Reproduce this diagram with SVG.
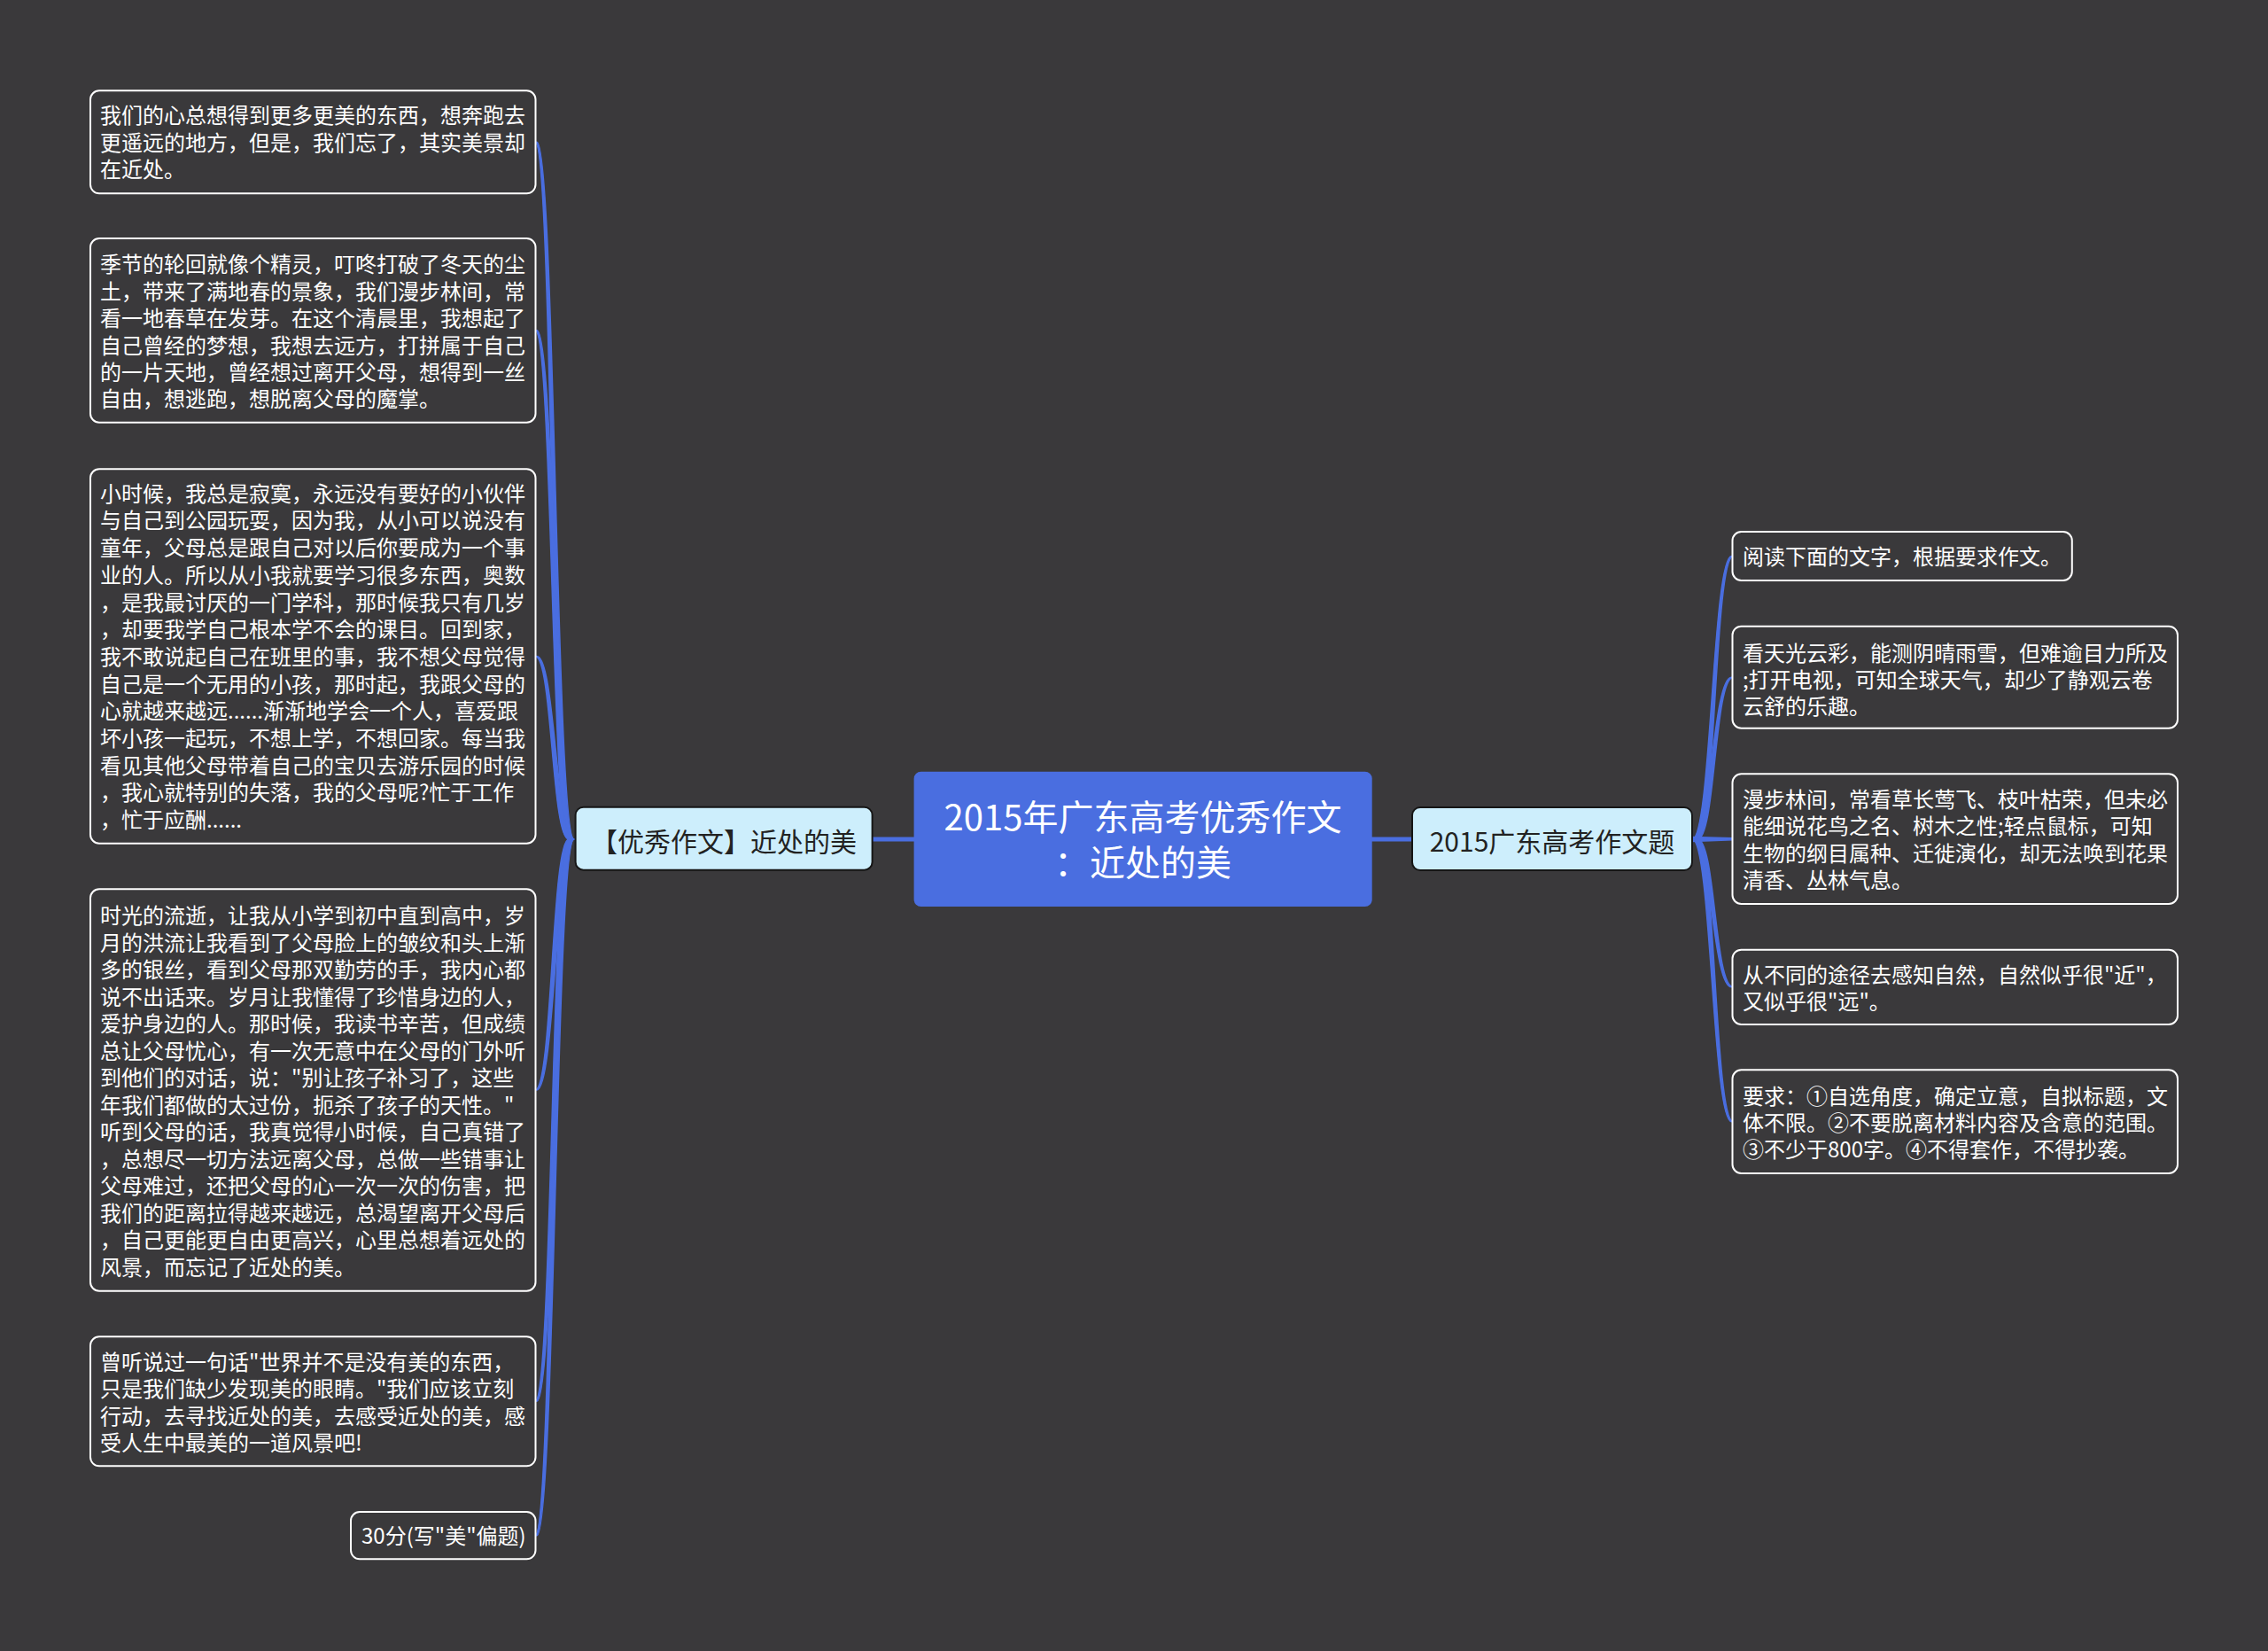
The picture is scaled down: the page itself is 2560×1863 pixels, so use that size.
<svg xmlns="http://www.w3.org/2000/svg" width="2560" height="1863" viewBox="0 0 2560 1863">
<style>
.bg{fill:#3a393b}
.leaf rect{fill:#3a393b;stroke:#ffffff;stroke-width:2}
.leaf text{font-family:"Noto Sans CJK SC","Noto Sans",sans-serif;font-size:24px;fill:#ffffff}
.sub rect{fill:#cdeefc;stroke:#161616;stroke-width:2}
.sub text{font-family:"Noto Sans CJK SC","Noto Sans",sans-serif;font-size:30px;fill:#222222;text-anchor:middle}
.root rect{fill:#4a6ee0}
.root text{font-family:"Noto Sans CJK SC","Noto Sans",sans-serif;font-size:40px;fill:#ffffff;text-anchor:middle}
#connectors path{fill:#4a6ee0;stroke:#4a6ee0;stroke-width:1.5;stroke-linejoin:round}
#connectors path.ln{fill:none;stroke-width:5}
</style>
<rect class="bg" x="0" y="0" width="2560" height="1863"/>
<g id="connectors">
<path class="ln" d="M984 947 L1032 947"/>
<path class="ln" d="M1548 947 L1595 947"/>
<path d="M642 947 C622.5 947 623.5 160.3 604 160.3 L606 160.3 C626.5 160.3 627.5 947 648 947 Z"/>
<path d="M642 947 C622.5 947 623.5 372.8 604 372.8 L606 372.8 C626.5 372.8 627.5 947 648 947 Z"/>
<path d="M642 947 C622.5 947 623.5 740.5 604 740.5 L606 740.5 C626.5 740.5 627.5 947 648 947 Z"/>
<path d="M642 947 C622.5 947 623.5 1230 604 1230 L606 1230 C626.5 1230 627.5 947 648 947 Z"/>
<path d="M642 947 C622.5 947 623.5 1581.3 604 1581.3 L606 1581.3 C626.5 1581.3 627.5 947 648 947 Z"/>
<path d="M642 947 C622.5 947 623.5 1732.7 604 1732.7 L606 1732.7 C626.5 1732.7 627.5 947 648 947 Z"/>
<path d="M1910 947 C1931.5 947 1933 627.5 1954.5 627.5 L1956.5 627.5 C1935 627.5 1936.5 947 1916 947 Z"/>
<path d="M1910 947 C1931.5 947 1933 764.2 1954.5 764.2 L1956.5 764.2 C1935 764.2 1936.5 947 1916 947 Z"/>
<path d="M1910 944.5 L1956 945.7 L1956 947.7 L1910 949.5 Z"/>
<path d="M1910 947 C1931.5 947 1933 1113.8 1954.5 1113.8 L1956.5 1113.8 C1935 1113.8 1936.5 947 1916 947 Z"/>
<path d="M1910 947 C1931.5 947 1933 1265.7 1954.5 1265.7 L1956.5 1265.7 C1935 1265.7 1936.5 947 1916 947 Z"/>
</g>
<g id="root" class="root">
<rect x="1031.6" y="870.7" width="517.1" height="152.3" rx="8"/>
<text x="1290" y="936.5">2015年广东高考优秀作文</text>
<text x="1290" y="988">：近处的美</text>
</g>
<g id="left-main" class="sub">
<rect x="649.6" y="910.7" width="335" height="71" rx="9"/>
<text x="817" y="961">【优秀作文】近处的美</text>
</g>
<g id="right-main" class="sub">
<rect x="1594" y="911" width="316" height="71" rx="9"/>
<text x="1752" y="961">2015广东高考作文题</text>
</g>
<g id="l1" class="leaf">
<rect x="102" y="102.3" width="502.5" height="116" rx="10"/>
<text x="113"><tspan x="113" y="139">我们的心总想得到更多更美的东西，想奔跑去</tspan><tspan x="113" y="169.7">更遥远的地方，但是，我们忘了，其实美景却</tspan><tspan x="113" y="200.4">在近处。</tspan></text>
</g>
<g id="l2" class="leaf">
<rect x="102" y="269" width="502.5" height="207.7" rx="10"/>
<text x="113"><tspan x="113" y="307.3">季节的轮回就像个精灵，叮咚打破了冬天的尘</tspan><tspan x="113" y="337.7">土，带来了满地春的景象，我们漫步林间，常</tspan><tspan x="113" y="368.1">看一地春草在发芽。在这个清晨里，我想起了</tspan><tspan x="113" y="398.5">自己曾经的梦想，我想去远方，打拼属于自己</tspan><tspan x="113" y="428.9">的一片天地，曾经想过离开父母，想得到一丝</tspan><tspan x="113" y="459.3">自由，想逃跑，想脱离父母的魔掌。</tspan></text>
</g>
<g id="l3" class="leaf">
<rect x="102" y="529.3" width="502.5" height="422.4" rx="10"/>
<text x="113"><tspan x="113" y="565.7">小时候，我总是寂寞，永远没有要好的小伙伴</tspan><tspan x="113" y="596.4">与自己到公园玩耍，因为我，从小可以说没有</tspan><tspan x="113" y="627.1">童年，父母总是跟自己对以后你要成为一个事</tspan><tspan x="113" y="657.8">业的人。所以从小我就要学习很多东西，奥数</tspan><tspan x="113" y="688.5">，是我最讨厌的一门学科，那时候我只有几岁</tspan><tspan x="113" y="719.2">，却要我学自己根本学不会的课目。回到家，</tspan><tspan x="113" y="749.9">我不敢说起自己在班里的事，我不想父母觉得</tspan><tspan x="113" y="780.6">自己是一个无用的小孩，那时起，我跟父母的</tspan><tspan x="113" y="811.3">心就越来越远......渐渐地学会一个人，喜爱跟</tspan><tspan x="113" y="842">坏小孩一起玩，不想上学，不想回家。每当我</tspan><tspan x="113" y="872.7">看见其他父母带着自己的宝贝去游乐园的时候</tspan><tspan x="113" y="903.4">，我心就特别的失落，我的父母呢?忙于工作</tspan><tspan x="113" y="934.1">，忙于应酬......</tspan></text>
</g>
<g id="l4" class="leaf">
<rect x="102" y="1003.3" width="502.5" height="453.4" rx="10"/>
<text x="113"><tspan x="113" y="1042.3">时光的流逝，让我从小学到初中直到高中，岁</tspan><tspan x="113" y="1072.8">月的洪流让我看到了父母脸上的皱纹和头上渐</tspan><tspan x="113" y="1103.3">多的银丝，看到父母那双勤劳的手，我内心都</tspan><tspan x="113" y="1133.8">说不出话来。岁月让我懂得了珍惜身边的人，</tspan><tspan x="113" y="1164.3">爱护身边的人。那时候，我读书辛苦，但成绩</tspan><tspan x="113" y="1194.8">总让父母忧心，有一次无意中在父母的门外听</tspan><tspan x="113" y="1225.3">到他们的对话，说："别让孩子补习了，这些</tspan><tspan x="113" y="1255.8">年我们都做的太过份，扼杀了孩子的天性。"</tspan><tspan x="113" y="1286.3">听到父母的话，我真觉得小时候，自己真错了</tspan><tspan x="113" y="1316.8">，总想尽一切方法远离父母，总做一些错事让</tspan><tspan x="113" y="1347.3">父母难过，还把父母的心一次一次的伤害，把</tspan><tspan x="113" y="1377.8">我们的距离拉得越来越远，总渴望离开父母后</tspan><tspan x="113" y="1408.3">，自己更能更自由更高兴，心里总想着远处的</tspan><tspan x="113" y="1438.8">风景，而忘记了近处的美。</tspan></text>
</g>
<g id="l5" class="leaf">
<rect x="102" y="1508.3" width="502.5" height="146" rx="10"/>
<text x="113"><tspan x="113" y="1545.7">曾听说过一句话"世界并不是没有美的东西，</tspan><tspan x="113" y="1576.2">只是我们缺少发现美的眼睛。"我们应该立刻</tspan><tspan x="113" y="1606.7">行动，去寻找近处的美，去感受近处的美，感</tspan><tspan x="113" y="1637.2">受人生中最美的一道风景吧!</tspan></text>
</g>
<g id="l6" class="leaf">
<rect x="396" y="1706" width="208.5" height="53.3" rx="10"/>
<text x="408" y="1742.3">30分(写"美"偏题)</text>
</g>
<g id="r1" class="leaf">
<rect x="1955.5" y="600" width="383.3" height="55" rx="10"/>
<text x="1967" y="637.3">阅读下面的文字，根据要求作文。</text>
</g>
<g id="r2" class="leaf">
<rect x="1955.5" y="706.7" width="502.5" height="115" rx="10"/>
<text x="1967"><tspan x="1967" y="745.7">看天光云彩，能测阴晴雨雪，但难逾目力所及</tspan><tspan x="1967" y="776">;打开电视，可知全球天气，却少了静观云卷</tspan><tspan x="1967" y="806.3">云舒的乐趣。</tspan></text>
</g>
<g id="r3" class="leaf">
<rect x="1955.5" y="873.3" width="502.5" height="146.7" rx="10"/>
<text x="1967"><tspan x="1967" y="910.7">漫步林间，常看草长莺飞、枝叶枯荣，但未必</tspan><tspan x="1967" y="941.2">能细说花鸟之名、树木之性;轻点鼠标，可知</tspan><tspan x="1967" y="971.7">生物的纲目属种、迁徙演化，却无法唤到花果</tspan><tspan x="1967" y="1002.2">清香、丛林气息。</tspan></text>
</g>
<g id="r4" class="leaf">
<rect x="1955.5" y="1071.7" width="502.5" height="84.3" rx="10"/>
<text x="1967"><tspan x="1967" y="1109">从不同的途径去感知自然，自然似乎很"近"，</tspan><tspan x="1967" y="1139.3">又似乎很"远"。</tspan></text>
</g>
<g id="r5" class="leaf">
<rect x="1955.5" y="1207.3" width="502.5" height="116.7" rx="10"/>
<text x="1967"><tspan x="1967" y="1245.7">要求：①自选角度，确定立意，自拟标题，文</tspan><tspan x="1967" y="1276">体不限。②不要脱离材料内容及含意的范围。</tspan><tspan x="1967" y="1306.3">③不少于800字。④不得套作，不得抄袭。</tspan></text>
</g>
</svg>
